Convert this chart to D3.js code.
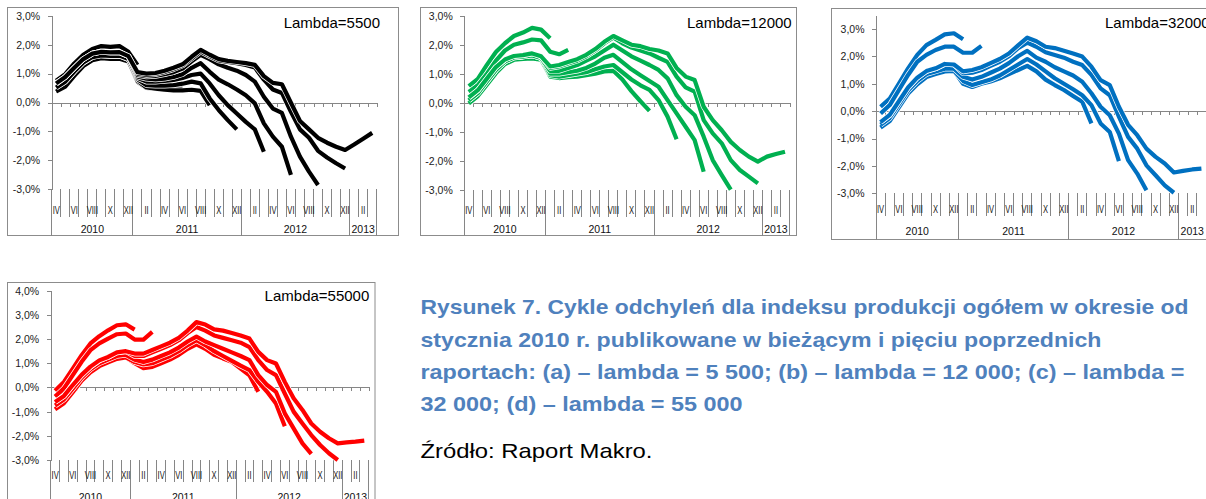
<!DOCTYPE html>
<html lang="pl">
<head>
<meta charset="utf-8">
<title>Cykle odchyleń - indeks produkcji</title>
<script src="https://cdn.jsdelivr.net/npm/d3@7"></script>
<style>
body { margin: 0; background: #fff; }
svg { display: block; font-family: "Liberation Sans", Arial, sans-serif; }
.axis path, .axis line { stroke: #868686; shape-rendering: crispEdges; }
.axis text { font-size: 10.5px; fill: #222; }
</style>
</head>
<body>
<script>

// months IV 2010 .. III 2013, every second one is labelled
var monthLabels = ["IV","","VI","","VIII","","X","","XII","","II","","IV","","VI","","VIII","","X","","XII","","II","","IV","","VI","","VIII","","X","","XII","","II",""];
var yearLabels = ["2010","2011","2012","2013"];
var yearBreaks = [0, 9, 21, 33, 36];

// (a) lambda = 5500, each series named after the month index where it ends
var a09 = [0.75,0.98,1.35,1.65,1.85,1.95,1.92,1.95,1.75,1.3];
var a14 = [0.38,0.55,0.92,1.26,1.46,1.53,1.51,1.51,1.42,0.72,0.5,0.47,0.45,0.45,0.5];
var a17 = [0.38,0.55,0.92,1.26,1.46,1.53,1.51,1.51,1.42,0.75,0.52,0.48,0.44,0.42,0.42,0.44,0.4,-0.09];
var a20 = [0.38,0.55,0.92,1.26,1.46,1.53,1.51,1.51,1.42,0.8,0.6,0.58,0.58,0.6,0.65,0.72,0.66,0.14,-0.26,-0.61,-0.93];
var a23 = [0.52,0.72,1.07,1.38,1.57,1.63,1.61,1.62,1.5,0.85,0.72,0.72,0.75,0.78,0.85,0.95,1.0,0.66,0.25,-0.09,-0.38,-0.67,-0.93,-1.7];
var a26 = [0.52,0.72,1.07,1.38,1.57,1.63,1.61,1.62,1.5,0.9,0.82,0.8,0.82,0.88,0.98,1.2,1.36,1.06,0.79,0.63,0.45,0.25,-0.03,-0.72,-1.18,-1.53,-2.5];
var a29 = [0.66,0.88,1.2,1.5,1.69,1.75,1.73,1.74,1.6,0.95,0.9,0.92,0.98,1.05,1.17,1.42,1.65,1.5,1.32,1.2,1.1,0.95,0.72,0.2,-0.21,-0.36,-1.18,-1.87,-2.39,-2.85];
var a32 = [0.66,0.88,1.2,1.5,1.69,1.75,1.73,1.74,1.6,1.0,0.95,0.98,1.05,1.15,1.28,1.52,1.76,1.6,1.45,1.4,1.36,1.3,1.21,0.79,0.45,0.33,-0.32,-0.93,-1.22,-1.67,-1.9,-2.1,-2.28];
var a35 = [0.66,0.88,1.2,1.5,1.69,1.75,1.73,1.74,1.6,1.05,1.0,1.02,1.1,1.2,1.32,1.58,1.82,1.65,1.5,1.44,1.4,1.36,1.3,0.91,0.68,0.63,-0.01,-0.64,-0.93,-1.22,-1.39,-1.53,-1.64,-1.45,-1.25,-1.05];

// (b) lambda = 12000
var b09 = [0.57,0.82,1.3,1.75,2.05,2.3,2.42,2.58,2.52,2.22];
var b11 = [0.37,0.6,1.0,1.45,1.8,2.0,2.08,2.18,2.15,1.76,1.67,1.82];
var b20 = [-0.02,0.23,0.62,1.02,1.33,1.48,1.51,1.53,1.48,0.9,0.85,0.88,0.9,0.95,1.0,1.08,1.1,0.8,0.4,0.05,-0.28];
var b23 = [-0.02,0.23,0.62,1.02,1.33,1.48,1.51,1.53,1.48,0.95,0.9,0.95,1.0,1.05,1.15,1.25,1.3,1.05,0.8,0.6,0.44,0.09,-0.48,-1.26];
var b26 = [0.08,0.33,0.73,1.13,1.42,1.56,1.59,1.63,1.54,1.0,1.0,1.05,1.1,1.2,1.35,1.55,1.65,1.4,1.15,0.95,0.75,0.55,0.09,-0.37,-0.83,-1.29,-2.38];
var b29 = [0.08,0.33,0.73,1.13,1.42,1.56,1.59,1.63,1.54,1.1,1.1,1.2,1.3,1.45,1.6,1.8,2.0,1.8,1.6,1.45,1.3,1.13,0.84,0.26,-0.14,-0.43,-1.17,-1.98,-2.5,-3.0];
var b32 = [0.18,0.43,0.83,1.23,1.49,1.61,1.64,1.7,1.6,1.2,1.25,1.35,1.45,1.6,1.8,2.05,2.25,2.05,1.9,1.8,1.7,1.55,1.41,0.9,0.53,0.38,-0.6,-1.06,-1.4,-1.98,-2.32,-2.55,-2.78];
var b35 = [0.18,0.43,0.83,1.23,1.49,1.61,1.64,1.7,1.6,1.25,1.3,1.4,1.5,1.65,1.85,2.1,2.3,2.15,2.0,1.95,1.85,1.8,1.7,1.2,0.9,0.78,-0.14,-0.6,-0.95,-1.35,-1.63,-1.86,-2.03,-1.86,-1.77,-1.69];

// (c) lambda = 32000
var c09 = [0.16,0.46,1.0,1.56,2.05,2.41,2.6,2.8,2.84,2.62];
var c11 = [-0.09,0.22,0.77,1.32,1.8,2.05,2.23,2.35,2.35,2.13,2.13,2.38];
var c23 = [-0.6,-0.36,0.14,0.64,0.98,1.24,1.35,1.45,1.47,1.0,0.88,1.0,1.08,1.2,1.35,1.5,1.65,1.45,1.15,0.95,0.77,0.55,0.34,-0.45];
var c26 = [-0.6,-0.36,0.14,0.64,0.98,1.24,1.35,1.45,1.47,1.1,0.95,1.05,1.15,1.3,1.5,1.7,1.9,1.7,1.45,1.2,1.0,0.8,0.58,0.22,-0.45,-0.76,-1.83];
var c29 = [-0.5,-0.25,0.25,0.75,1.1,1.35,1.45,1.55,1.55,1.25,1.15,1.25,1.4,1.55,1.75,2.0,2.2,1.95,1.8,1.6,1.45,1.3,1.07,0.65,0.16,-0.15,-0.82,-1.79,-2.28,-2.89];
var c32 = [-0.4,-0.14,0.36,0.86,1.22,1.46,1.56,1.72,1.7,1.38,1.4,1.5,1.65,1.8,2.0,2.3,2.5,2.35,2.15,2.05,1.95,1.8,1.68,1.32,0.83,0.58,-0.2,-0.94,-1.37,-1.98,-2.34,-2.71,-2.98];
var c35 = [-0.4,-0.14,0.36,0.86,1.22,1.46,1.56,1.72,1.7,1.45,1.5,1.6,1.75,1.9,2.1,2.4,2.68,2.55,2.35,2.3,2.2,2.1,1.99,1.62,1.13,0.95,0.16,-0.5,-0.88,-1.37,-1.67,-1.91,-2.24,-2.18,-2.13,-2.1];

// (d) lambda = 55000
var d09 = [-0.14,0.23,0.78,1.33,1.82,2.12,2.36,2.57,2.61,2.39];
var d11 = [-0.38,-0.04,0.51,1.06,1.54,1.82,2.02,2.2,2.23,1.98,1.98,2.3];
var d23 = [-0.9,-0.65,-0.2,0.28,0.63,0.88,1.04,1.18,1.24,1.0,0.8,0.85,1.0,1.15,1.35,1.6,1.78,1.6,1.35,1.2,1.06,0.78,0.5,-0.18];
var d26 = [-0.9,-0.65,-0.2,0.28,0.63,0.88,1.04,1.18,1.24,1.05,0.95,1.0,1.15,1.3,1.5,1.75,1.95,1.75,1.5,1.3,1.1,0.9,0.72,0.23,-0.18,-0.66,-1.6];
var d29 = [-0.75,-0.5,-0.05,0.4,0.75,1.0,1.15,1.3,1.35,1.15,1.05,1.15,1.3,1.45,1.65,1.9,2.1,1.9,1.75,1.6,1.45,1.3,1.13,0.51,0.1,-0.18,-1.07,-1.69,-2.31,-2.75];
var d32 = [-0.6,-0.35,0.1,0.52,0.86,1.12,1.26,1.45,1.5,1.3,1.3,1.45,1.6,1.75,1.95,2.25,2.5,2.35,2.15,2.05,1.95,1.85,1.67,1.13,0.72,0.51,-0.25,-1.0,-1.49,-1.97,-2.38,-2.72,-3.0];
var d35 = [-0.6,-0.35,0.1,0.52,0.86,1.12,1.26,1.45,1.5,1.4,1.4,1.55,1.7,1.85,2.05,2.35,2.7,2.6,2.4,2.35,2.25,2.15,2.02,1.47,1.13,0.99,0.23,-0.45,-0.93,-1.49,-1.83,-2.1,-2.31,-2.27,-2.24,-2.2];

var captionLines = [
	"Rysunek 7. Cykle odchyleń dla indeksu produkcji ogółem w okresie od",
	"stycznia 2010 r. publikowane w bieżącym i pięciu poprzednich",
	"raportach: (a) – lambda = 5 500; (b) – lambda = 12 000; (c) – lambda =",
	"32 000; (d) – lambda = 55 000"
];
var sourceText = "Źródło: Raport Makro.";

//Panels: data + where each one sits
var panels = [
	{ series: [a09, a14, a17, a20, a23, a26, a29, a32, a35], color: "#000000", label: "Lambda=5500",
	  box: [7.5, 7.5, 398.5, 235.5], left: 51.7, right: 376.7, yDom: [-3, 3], yRange: [189.3, 15.7],
	  monthY: 213.5, sepBottom: 217, yearY: 232.7, labelX: 380, labelY: 28.3, anchor: "end" },
	{ series: [b09, b11, b20, b23, b26, b29, b32, b35], color: "#00b050", label: "Lambda=12000",
	  box: [420.5, 7.5, 796.5, 235.5], left: 464.3, right: 789.5, yDom: [-3, 3], yRange: [189.7, 15.7],
	  monthY: 213.5, sepBottom: 217, yearY: 232.7, labelX: 791.7, labelY: 27.8, anchor: "end" },
	{ series: [c09, c11, c23, c26, c29, c32, c35], color: "#0070c0", label: "Lambda=32000",
	  box: [831.5, 8.5, 1215, 239.5], left: 876, right: 1206, yDom: [-3, 3.5], yRange: [193.3, 15.2],
	  monthY: 212.5, sepBottom: 215.5, yearY: 234.7, labelX: 1105, labelY: 28.3, anchor: "start" },
	{ series: [d09, d11, d23, d26, d29, d32, d35], color: "#ff0000", label: "Lambda=55000",
	  box: [7.5, 282.5, 375, 520], left: 50.7, right: 368.7, yDom: [-3, 4], yRange: [460, 290.7],
	  monthY: 478.5, sepBottom: 481.7, yearY: 500.5, labelX: 369.3, labelY: 300.7, anchor: "end" }
];

var svg = d3.select("body")
			.append("svg")
			.attr("width", 1206)
			.attr("height", 499);

var pctFormat = function(d) { return d.toFixed(1).replace(".", ",") + "%"; };

panels.forEach(function(p) {
	var g = svg.append("g");

	g.append("rect")
		.attr("x", p.box[0]).attr("y", p.box[1])
		.attr("width", p.box[2] - p.box[0]).attr("height", p.box[3] - p.box[1])
		.attr("fill", "#fff").attr("stroke", "#8c8c8c").attr("stroke-width", 1);

	var x = d3.scaleBand().domain(d3.range(36)).range([p.left, p.right]).padding(0);
	var xb = d3.scaleLinear().domain([0, 36]).range([p.left, p.right]);
	var y = d3.scaleLinear().domain(p.yDom).range(p.yRange);
	var plotBottom = p.yRange[0];

	//Y axis
	var yAxis = d3.axisLeft(y)
		.tickValues(d3.range(p.yDom[0], Math.floor(p.yDom[1]) + 1))
		.tickSize(4).tickSizeOuter(0).tickPadding(7.5)
		.tickFormat(pctFormat);
	g.append("g").attr("class", "axis")
		.attr("transform", "translate(" + p.left + ",0)")
		.call(yAxis);

	//X axis crossing at 0
	var xAxis = d3.axisBottom(xb)
		.tickValues(d3.range(37))
		.tickSize(4).tickSizeOuter(0)
		.tickFormat("");
	g.append("g").attr("class", "axis")
		.attr("transform", "translate(0," + y(0) + ")")
		.call(xAxis);

	//category separators under the plot
	g.selectAll("line.sep")
		.data(d3.range(37))
		.enter()
		.append("line")
		.attr("class", "sep")
		.attr("x1", function(k) { return xb(k); })
		.attr("x2", function(k) { return xb(k); })
		.attr("y1", plotBottom)
		.attr("y2", function(k) { return yearBreaks.indexOf(k) >= 0 ? p.box[3] : p.sepBottom; })
		.attr("stroke", "#868686")
		.attr("shape-rendering", "crispEdges");

	//month labels, squeezed like the narrow original font
	monthLabels.forEach(function(m, i) {
		if (!m) return;
		var t = g.append("text")
			.attr("x", x(i) + x.bandwidth() / 2)
			.attr("y", p.monthY)
			.attr("text-anchor", "middle")
			.attr("font-size", "10.5px")
			.attr("fill", "#111")
			.text(m);
		var w = t.node().getComputedTextLength();
		t.attr("textLength", w * 0.72).attr("lengthAdjust", "spacingAndGlyphs");
	});

	//year labels
	yearLabels.forEach(function(yr, i) {
		g.append("text")
			.attr("x", (xb(yearBreaks[i]) + xb(yearBreaks[i + 1])) / 2)
			.attr("y", p.yearY)
			.attr("text-anchor", "middle")
			.attr("font-size", "10.5px")
			.attr("fill", "#111")
			.text(yr);
	});

	//lines, each with a thin white edge like the original
	var line = d3.line()
		.x(function(d, i) { return x(i) + x.bandwidth() / 2; })
		.y(function(d) { return y(d); });

	p.series.forEach(function(s) {
		g.append("path")
			.attr("d", line(s))
			.attr("fill", "none")
			.attr("stroke", "#fff")
			.attr("stroke-width", 5.6)
			.attr("stroke-linejoin", "round");
		g.append("path")
			.attr("d", line(s))
			.attr("fill", "none")
			.attr("stroke", p.color)
			.attr("stroke-width", 4.2)
			.attr("stroke-linejoin", "round");
	});

	g.append("text")
		.attr("x", p.labelX)
		.attr("y", p.labelY)
		.attr("text-anchor", p.anchor)
		.attr("font-size", "15px")
		.attr("fill", "#000")
		.text(p.label);
});

//Caption
var captionWidths = [768, 681, 764, 322];
var captionBase = [314.3, 346.8, 379.3, 411];
captionLines.forEach(function(t, i) {
	svg.append("text")
		.attr("x", 420.5)
		.attr("y", captionBase[i])
		.attr("font-size", "21px")
		.attr("font-weight", "bold")
		.attr("fill", "#4f81bd")
		.attr("textLength", captionWidths[i])
		.attr("lengthAdjust", "spacingAndGlyphs")
		.text(t);
});

svg.append("text")
	.attr("x", 420.5)
	.attr("y", 458.3)
	.attr("font-size", "21px")
	.attr("fill", "#000")
	.attr("textLength", 232)
	.attr("lengthAdjust", "spacingAndGlyphs")
	.text(sourceText);

</script>
</body>
</html>
